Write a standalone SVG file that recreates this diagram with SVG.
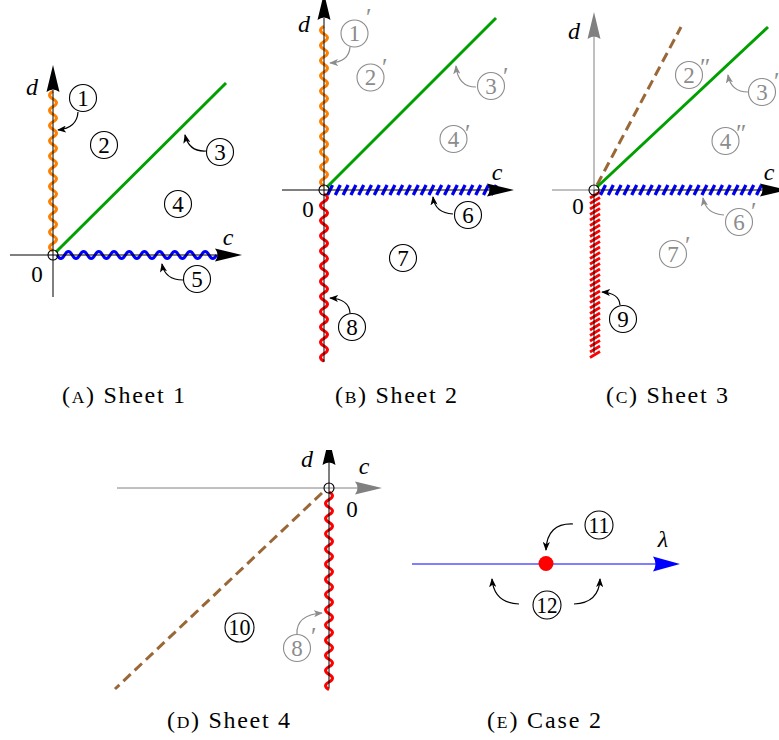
<svg xmlns="http://www.w3.org/2000/svg" xmlns:xlink="http://www.w3.org/1999/xlink" width="779" height="740" viewBox="0 0 779 740">
<style>
text{font-family:"Liberation Serif","DejaVu Serif",serif;font-size:23px;fill:#000}
.it{font-style:italic;font-size:24px;text-anchor:middle}
.num{text-anchor:middle}
.cap{font-size:24px}
.lbl circle{fill:none;stroke:#000;stroke-width:1.1}
.lbl text{text-anchor:middle;font-size:23px}
.g circle{stroke:#8c8c8c}
.g text{fill:#8c8c8c}
.pr{fill:#8c8c8c;font-size:25px}
.ax{fill:none;stroke:#000;stroke-width:1}
.axg{fill:none;stroke:#808080;stroke-width:1}
.orig{fill:none;stroke:#000;stroke-width:1.1}
.wo{fill:none;stroke:#ff8000;stroke-width:3}
.wb{fill:none;stroke:#0000ff;stroke-width:3}
.wr{fill:none;stroke:#ff0000;stroke-width:3}
.hb{fill:none;stroke:#0000ff;stroke-width:3.3}
.hr{fill:none;stroke:#ff0000;stroke-width:2.7}
.gr{fill:none;stroke:#00a000;stroke-width:3}
.br{fill:none;stroke:#9a6838;stroke-width:3;stroke-dasharray:10 5.5}
#connectors path{fill:none;stroke:#000;stroke-width:1.2;marker-end:url(#ah)}
#connectors path.gc{stroke:#8c8c8c;marker-end:url(#ahg)}
</style>
<defs>
<path id="hd" d="M0,0 L-27,-6.5 Q-22,0 -27,6.5 Z"/>
<marker id="ah" viewBox="0 0 10 8" refX="9" refY="4" markerWidth="9" markerHeight="7.2" markerUnits="userSpaceOnUse" orient="auto"><path d="M0,0 L10,4 L0,8 L2.5,4 Z" fill="#000"/></marker>
<marker id="ahg" viewBox="0 0 10 8" refX="9" refY="4" markerWidth="9" markerHeight="7.2" markerUnits="userSpaceOnUse" orient="auto"><path d="M0,0 L10,4 L0,8 L2.5,4 Z" fill="#8c8c8c"/></marker>
<clipPath id="clip4"><rect x="280" y="450" width="120" height="60"/></clipPath>
</defs>

<!-- Sheet 1 -->
<g id="sheet1">
<path class="wo" d="M53,251 q-7,-3.8 0,-7.6 t0,-7.6 t0,-7.6 t0,-7.6 t0,-7.6 t0,-7.6 t0,-7.6 t0,-7.6 t0,-7.6 t0,-7.6 t0,-7.6 t0,-7.6 t0,-7.6 t0,-7.6 t0,-7.6 t0,-7.6 t0,-7.6 t0,-7.6 t0,-7.6 t0,-7.6 t0,-7.6"/>
<path class="wb" d="M57,255 q3.8,7 7.6,0 t7.6,0 t7.6,0 t7.6,0 t7.6,0 t7.6,0 t7.6,0 t7.6,0 t7.6,0 t7.6,0 t7.6,0 t7.6,0 t7.6,0 t7.6,0 t7.6,0 t7.6,0 t7.6,0 t7.6,0 t7.6,0 t7.6,0 t7.6,0"/>
<line class="gr" x1="56" y1="252" x2="226" y2="83"/>
<line class="ax" x1="10" y1="255" x2="218" y2="255"/>
<line class="ax" x1="53" y1="297" x2="53" y2="90"/>
<use href="#hd" transform="translate(242,255)"/>
<use href="#hd" transform="translate(53,65) rotate(-90)"/>
<circle class="orig" cx="53" cy="255" r="5"/>
<text class="it" x="32" y="95">d</text>
<text class="it" x="228" y="245">c</text>
<text class="num" x="37" y="282">0</text>
</g>
<g id="n1" class="lbl"><circle cx="83" cy="98" r="13.5"/><text x="83" y="105.5">1</text></g>
<g id="n2" class="lbl"><circle cx="104" cy="145" r="13.5"/><text x="104" y="152.5">2</text></g>
<g id="n3" class="lbl"><circle cx="220" cy="152" r="13.5"/><text x="220" y="159.5">3</text></g>
<g id="n4" class="lbl"><circle cx="178" cy="204" r="13.5"/><text x="178" y="211.5">4</text></g>
<g id="n5" class="lbl"><circle cx="197" cy="279" r="13.5"/><text x="197" y="286.5">5</text></g>
<text class="cap" x="62" y="403" textLength="123" lengthAdjust="spacing">(<tspan font-size="17.5">A</tspan>) Sheet 1</text>

<!-- Sheet 2 -->
<g id="sheet2">
<path class="wo" d="M324,186 q-7,-3.8 0,-7.6 t0,-7.6 t0,-7.6 t0,-7.6 t0,-7.6 t0,-7.6 t0,-7.6 t0,-7.6 t0,-7.6 t0,-7.6 t0,-7.6 t0,-7.6 t0,-7.6 t0,-7.6 t0,-7.6 t0,-7.6 t0,-7.6 t0,-7.6 t0,-7.6 t0,-7.6 t0,-7.6"/>
<path class="wr" d="M324,194 q7,3.8 0,7.6 t0,7.6 t0,7.6 t0,7.6 t0,7.6 t0,7.6 t0,7.6 t0,7.6 t0,7.6 t0,7.6 t0,7.6 t0,7.6 t0,7.6 t0,7.6 t0,7.6 t0,7.6 t0,7.6 t0,7.6 t0,7.6 t0,7.6 t0,7.6 t0,7.6"/>
<path class="hb" d="M327.5,195 l5,-10 m2.8,10 l5,-10 m2.8,10 l5,-10 m2.8,10 l5,-10 m2.8,10 l5,-10 m2.8,10 l5,-10 m2.8,10 l5,-10 m2.8,10 l5,-10 m2.8,10 l5,-10 m2.8,10 l5,-10 m2.8,10 l5,-10 m2.8,10 l5,-10 m2.8,10 l5,-10 m2.8,10 l5,-10 m2.8,10 l5,-10 m2.8,10 l5,-10 m2.8,10 l5,-10 m2.8,10 l5,-10 m2.8,10 l5,-10 m2.8,10 l5,-10 m2.8,10 l5,-10 m2.8,10 l5,-10"/>
<line class="gr" x1="327" y1="187" x2="496" y2="18"/>
<line class="ax" x1="282" y1="190" x2="490" y2="190"/>
<line class="ax" x1="324" y1="362" x2="324" y2="18"/>
<use href="#hd" transform="translate(514,190)"/>
<use href="#hd" transform="translate(324,-7) rotate(-90)"/>
<circle class="orig" cx="324" cy="190" r="5"/>
<text class="it" x="304" y="32">d</text>
<text class="it" x="497" y="180">c</text>
<text class="num" x="308" y="217">0</text>
</g>
<g id="n1p" class="lbl g"><circle cx="354.5" cy="33.5" r="13.5"/><text x="354.5" y="41">1</text></g>
<text class="pr" x="366" y="26">′</text>
<g id="n2p" class="lbl g"><circle cx="370.5" cy="77.5" r="13.5"/><text x="370.5" y="85">2</text></g>
<text class="pr" x="382" y="76">′</text>
<g id="n3p" class="lbl g"><circle cx="491" cy="86" r="13.5"/><text x="491" y="93.5">3</text></g>
<text class="pr" x="503" y="85">′</text>
<g id="n4p" class="lbl g"><circle cx="453.5" cy="139" r="13.5"/><text x="453.5" y="146.5">4</text></g>
<text class="pr" x="465" y="142">′</text>
<g id="n6" class="lbl"><circle cx="468" cy="215" r="13.5"/><text x="468" y="222.5">6</text></g>
<g id="n7" class="lbl"><circle cx="403" cy="258" r="13.5"/><text x="403" y="265.5">7</text></g>
<g id="n8" class="lbl"><circle cx="352" cy="327" r="13.5"/><text x="352" y="334.5">8</text></g>
<text class="cap" x="335" y="403" textLength="122" lengthAdjust="spacing">(<tspan font-size="17.5">B</tspan>) Sheet 2</text>

<!-- Sheet 3 -->
<g id="sheet3">
<path class="hr" d="M590,198 l10,-6 m-10,11.5 l10,-6 m-10,11.5 l10,-6 m-10,11.5 l10,-6 m-10,11.5 l10,-6 m-10,11.5 l10,-6 m-10,11.5 l10,-6 m-10,11.5 l10,-6 m-10,11.5 l10,-6 m-10,11.5 l10,-6 m-10,11.5 l10,-6 m-10,11.5 l10,-6 m-10,11.5 l10,-6 m-10,11.5 l10,-6 m-10,11.5 l10,-6 m-10,11.5 l10,-6 m-10,11.5 l10,-6 m-10,11.5 l10,-6 m-10,11.5 l10,-6 m-10,11.5 l10,-6 m-10,11.5 l10,-6 m-10,11.5 l10,-6 m-10,11.5 l10,-6 m-10,11.5 l10,-6 m-10,11.5 l10,-6 m-10,11.5 l10,-6 m-10,11.5 l10,-6 m-10,11.5 l10,-6 m-10,11.5 l10,-6 m-10,11.5 l10,-6"/>
<path class="hb" d="M600.5,195 l5,-10 m2.8,10 l5,-10 m2.8,10 l5,-10 m2.8,10 l5,-10 m2.8,10 l5,-10 m2.8,10 l5,-10 m2.8,10 l5,-10 m2.8,10 l5,-10 m2.8,10 l5,-10 m2.8,10 l5,-10 m2.8,10 l5,-10 m2.8,10 l5,-10 m2.8,10 l5,-10 m2.8,10 l5,-10 m2.8,10 l5,-10 m2.8,10 l5,-10 m2.8,10 l5,-10 m2.8,10 l5,-10 m2.8,10 l5,-10 m2.8,10 l5,-10 m2.8,10 l5,-10"/>
<line class="br" x1="597" y1="185" x2="681" y2="27"/>
<line class="gr" x1="597" y1="187" x2="768" y2="27"/>
<line class="axg" x1="552" y1="190" x2="594" y2="190"/>
<line class="ax" x1="594" y1="190" x2="763" y2="190"/>
<line class="ax" x1="594" y1="190" x2="594" y2="353"/>
<line class="axg" x1="594" y1="190" x2="594" y2="36"/>
<use href="#hd" transform="translate(787,190)"/>
<use href="#hd" fill="#808080" transform="translate(594,12) rotate(-90)"/>
<circle class="orig" cx="594" cy="190" r="5"/>
<text class="it" x="574" y="39">d</text>
<text class="it" x="769" y="180">c</text>
<text class="num" x="578" y="214">0</text>
</g>
<g id="n2pp" class="lbl g"><circle cx="689" cy="75" r="13.5"/><text x="689" y="82.5">2</text></g>
<text class="pr" x="700" y="76">″</text>
<g id="n3p3" class="lbl g"><circle cx="762" cy="92" r="13.5"/><text x="762" y="99.5">3</text></g>
<text class="pr" x="774" y="90">′</text>
<g id="n4pp" class="lbl g"><circle cx="725.5" cy="141" r="13.5"/><text x="725.5" y="148.5">4</text></g>
<text class="pr" x="736" y="142">″</text>
<g id="n6p" class="lbl g"><circle cx="739" cy="222" r="13.5"/><text x="739" y="229.5">6</text></g>
<text class="pr" x="751" y="220">′</text>
<g id="n7p" class="lbl g"><circle cx="673" cy="254" r="13.5"/><text x="673" y="261.5">7</text></g>
<text class="pr" x="685" y="254">′</text>
<g id="n9" class="lbl"><circle cx="623" cy="319" r="13.5"/><text x="623" y="326.5">9</text></g>
<text class="cap" x="606" y="403" textLength="122" lengthAdjust="spacing">(<tspan font-size="17.5">C</tspan>) Sheet 3</text>

<!-- Sheet 4 -->
<g id="sheet4">
<path class="wr" d="M329,492 q7,3.8 0,7.6 t0,7.6 t0,7.6 t0,7.6 t0,7.6 t0,7.6 t0,7.6 t0,7.6 t0,7.6 t0,7.6 t0,7.6 t0,7.6 t0,7.6 t0,7.6 t0,7.6 t0,7.6 t0,7.6 t0,7.6 t0,7.6 t0,7.6 t0,7.6 t0,7.6 t0,7.6 t0,7.6 t0,7.6 t0,7.6"/>
<line class="br" x1="322" y1="493" x2="115" y2="689"/>
<line class="axg" x1="117" y1="488" x2="358" y2="488"/>
<line class="ax" x1="329" y1="688" x2="329" y2="462"/>
<use href="#hd" fill="#808080" transform="translate(382,488)"/>
<g clip-path="url(#clip4)"><use href="#hd" transform="translate(329,438) rotate(-90)"/></g>
<circle class="orig" cx="329" cy="488" r="5"/>
<text class="it" x="307" y="467">d</text>
<text class="it" x="364" y="474">c</text>
<text class="num" x="352" y="517">0</text>
</g>
<g id="n10" class="lbl"><circle cx="239.5" cy="627.5" r="14.5"/><text x="239.5" y="635" textLength="22" lengthAdjust="spacingAndGlyphs">10</text></g>
<g id="n8p" class="lbl g"><circle cx="297" cy="648" r="13.5"/><text x="297" y="655.5">8</text></g>
<text class="pr" x="311" y="645">′</text>
<text class="cap" x="167" y="728" textLength="123" lengthAdjust="spacing">(<tspan font-size="17.5">D</tspan>) Sheet 4</text>

<!-- Case 2 -->
<g id="case2">
<line x1="412" y1="564" x2="656" y2="564" stroke="#0000ff" stroke-width="1.2"/>
<use href="#hd" fill="#0000ff" transform="translate(680,564) scale(1,1.15)"/>
<circle cx="546" cy="563.5" r="7.5" fill="#ff0000"/>
<text class="it" x="663" y="547">λ</text>
</g>
<g id="n11" class="lbl"><circle cx="599" cy="525" r="14"/><text x="599" y="532.5" textLength="21" lengthAdjust="spacingAndGlyphs">11</text></g>
<g id="n12" class="lbl"><circle cx="547" cy="605" r="14"/><text x="547" y="612.5" textLength="21" lengthAdjust="spacingAndGlyphs">12</text></g>
<text class="cap" x="487" y="728" textLength="114" lengthAdjust="spacing">(<tspan font-size="17.5">E</tspan>) Case 2</text>

<g id="connectors">
<path d="M78,112 Q77,128 58,130"/>
<path d="M206,151 Q189,152 185,135"/>
<path d="M183,280 Q165,280 162,264"/>
<path class="gc" d="M350,47 Q349,62 330,63"/>
<path class="gc" d="M476,87 Q458,87 456,66"/>
<path d="M453,214 Q435,213 433,197"/>
<path d="M350,313 Q349,299 330,298"/>
<path class="gc" d="M748,92 Q731,92 728,75"/>
<path class="gc" d="M724,215 Q706,214 703,198"/>
<path d="M620,305 Q619,293 602,292"/>
<path class="gc" d="M297,634 Q296,615 322,613"/>
<path d="M573,524 Q547,523 546,550"/>
<path d="M519,604 Q494,603 492,579"/>
<path d="M574,604 Q599,603 600,579"/>
</g>
</svg>
